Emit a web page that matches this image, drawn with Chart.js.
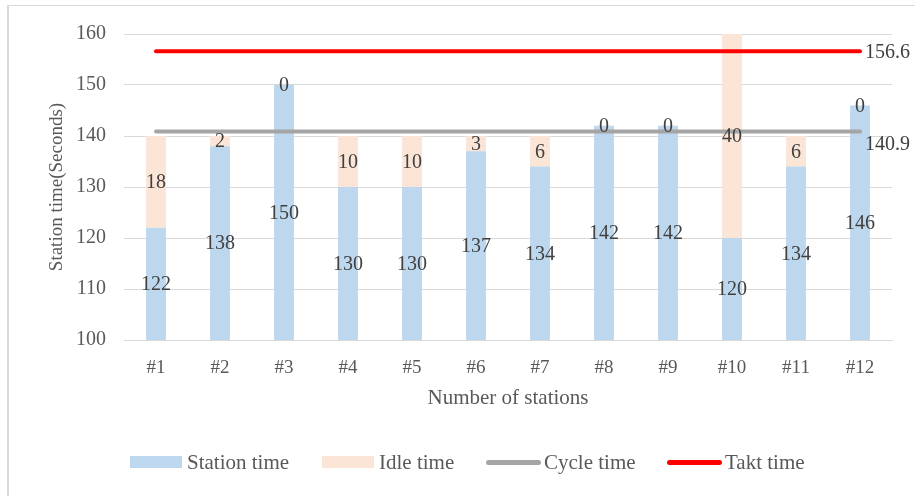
<!DOCTYPE html>
<html>
<head>
<meta charset="utf-8">
<script src="https://cdn.jsdelivr.net/npm/chart.js@4"></script>
<style>
  html, body { margin: 0; padding: 0; background: #fff; }
  body { width: 915px; height: 496px; position: relative; overflow: hidden;
         font-family: "Liberation Serif", "Times New Roman", serif; }
  .frame { position: absolute; left: 7px; top: 5px; width: 1000px; height: 600px;
           border-left: 2px solid #d9d9d9; border-top: 1px solid #d9d9d9; box-sizing: border-box; }
  .wrap { position: absolute; left: 0; top: 0; width: 915px; height: 496px; }
  .legend { position: absolute; top: 450px; left: 0; width: 915px; height: 24px; }
  .legend .item { position: absolute; top: 0; height: 24px; display: flex; align-items: center;
                  font-size: 21px; color: #595959; }
  .legend .swatch { width: 52px; height: 12px; margin-right: 5px; }
  .legend .line { width: 55px; height: 5px; border-radius: 3px; margin-right: 3px; }
</style>
</head>
<body>
<div class="frame"></div>
<div class="wrap"><canvas id="chart" width="915" height="496"></canvas></div>
<div class="legend" id="legend"></div>
<script>
/* ─── Data ─────────────────────────────────────────────────────────────── */
const stations    = ['#1', '#2', '#3', '#4', '#5', '#6', '#7', '#8', '#9', '#10', '#11', '#12'];
const stationTime = [122, 138, 150, 130, 130, 137, 134, 142, 142, 120, 134, 146];
const idleTime    = [18, 2, 0, 10, 10, 3, 6, 0, 0, 40, 6, 0];
const cycleTime   = [140.9, 140.9, 140.9, 140.9, 140.9, 140.9, 140.9, 140.9, 140.9, 140.9, 140.9, 140.9];
const taktTime    = [156.6, 156.6, 156.6, 156.6, 156.6, 156.6, 156.6, 156.6, 156.6, 156.6, 156.6, 156.6];

const FONT = '"Liberation Serif", "Times New Roman", serif';
const BLUE = '#bdd7ee', PEACH = '#fbe5d6', GREY = '#a5a5a5', RED = '#ff0000';

/* ─── Labels plugin ────────────────────────────────────────────────────── */
const valueLabels = {
  id: 'valueLabels',
  afterDatasetsDraw(chart) {
    const ctx = chart.ctx;
    const bottom = chart.chartArea.bottom;
    ctx.save();
    ctx.font = `20px ${FONT}`;
    ctx.fillStyle = '#404040';
    ctx.textBaseline = 'middle';
    [0, 1].forEach(di => {
      const meta = chart.getDatasetMeta(di);
      const data = chart.data.datasets[di].data;
      ctx.textAlign = 'center';
      meta.data.forEach((bar, i) => {
        const base = Math.min(bar.base, bottom);
        ctx.fillText(String(data[i]), bar.x, (bar.y + base) / 2 + 1);
      });
    });
    // end labels for the lines
    ctx.textAlign = 'left';
    const takt = chart.getDatasetMeta(3).data;
    const tLast = takt[takt.length - 1];
    ctx.fillText(String(taktTime[taktTime.length - 1]), tLast.x + 5, tLast.y + 1);
    const cyc = chart.getDatasetMeta(2).data;
    const cLast = cyc[cyc.length - 1];
    ctx.fillText(String(cycleTime[cycleTime.length - 1]), cLast.x + 5, cLast.y + 13);
    ctx.restore();
  }
};

/* ─── Chart ────────────────────────────────────────────────────────────── */
new Chart(document.getElementById('chart'), {
  type: 'bar',
  data: {
    labels: stations,
    datasets: [
      { label: 'Station time', data: stationTime, backgroundColor: BLUE,
        stack: 'bars', order: 2, barPercentage: 0.31, categoryPercentage: 1 },
      { label: 'Idle time', data: idleTime, backgroundColor: PEACH,
        stack: 'bars', order: 2, barPercentage: 0.31, categoryPercentage: 1 },
      { type: 'line', label: 'Cycle time', data: cycleTime, borderColor: GREY,
        borderWidth: 4, borderCapStyle: 'round', pointRadius: 0, stack: 'cycle', order: 1 },
      { type: 'line', label: 'Takt time', data: taktTime, borderColor: RED,
        borderWidth: 4, borderCapStyle: 'round', pointRadius: 0, stack: 'takt', order: 0 }
    ]
  },
  options: {
    responsive: false,
    animation: false,
    layout: { padding: { left: 46, right: 23, top: 34, bottom: 85 } },
    plugins: { legend: { display: false }, tooltip: { enabled: false } },
    scales: {
      x: {
        stacked: true,
        grid: { display: false },
        border: { color: '#d9d9d9', width: 1 },
        ticks: { color: '#595959', font: { family: FONT, size: 19 }, padding: 9 },
        title: { display: true, text: 'Number of stations', color: '#595959',
                 font: { family: FONT, size: 21 }, padding: { top: 4, bottom: 0 } },
        afterFit: s => { s.height = 71; }
      },
      y: {
        stacked: true,
        min: 100, max: 160,
        ticks: { stepSize: 10, color: '#595959', font: { family: FONT, size: 20 }, padding: 18 },
        grid: { color: '#d9d9d9', lineWidth: 1, drawTicks: false },
        border: { display: false },
        title: { display: true, text: 'Station time(Seconds)', color: '#595959',
                 font: { family: FONT, size: 19 }, padding: 0 },
        afterFit: s => { s.width = 78; }
      }
    }
  },
  plugins: [valueLabels]
});

/* ─── Legend ───────────────────────────────────────────────────────────── */
const legendItems = [
  { text: 'Station time', kind: 'swatch', color: BLUE, left: 130 },
  { text: 'Idle time', kind: 'swatch', color: PEACH, left: 322 },
  { text: 'Cycle time', kind: 'line', color: GREY, left: 486 },
  { text: 'Takt time', kind: 'line', color: RED, left: 667 }
];
const legendEl = document.getElementById('legend');
legendItems.forEach(it => {
  const d = document.createElement('div');
  d.className = 'item';
  d.style.left = it.left + 'px';
  const s = document.createElement('span');
  s.className = it.kind;
  s.style.background = it.color;
  d.appendChild(s);
  d.appendChild(document.createTextNode(it.text));
  legendEl.appendChild(d);
});
</script>
</body>
</html>
